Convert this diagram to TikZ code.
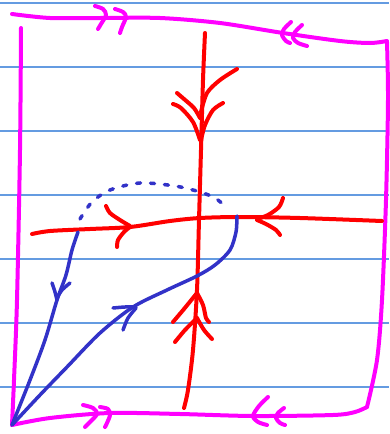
\documentclass[tikz,border=0pt]{standalone}
\definecolor{pinkm}{RGB}{255,0,255}
\definecolor{redl}{RGB}{255,0,0}
\definecolor{bluel}{RGB}{50,50,200}
\definecolor{ruled}{RGB}{100,155,225}
\tikzset{
  frame/.style={draw=pinkm,line width=4pt,line cap=round,line join=round},
  redpath/.style={draw=redl,line width=4pt,line cap=round,line join=round},
  bluepath/.style={draw=bluel,line width=3.5pt,line cap=round,line join=round},
  bluedash/.style={draw=bluel,line width=3.5pt,line cap=round,dash pattern=on 4pt off 10pt},
  rule/.style={draw=ruled,line width=1.3pt}
}
\begin{document}
\begin{tikzpicture}[x=1pt,y=-1pt]
\useasboundingbox (0,0) rectangle (389,434);
\fill[white] (0,0) rectangle (389,434);
% notebook rules
\foreach \yy in {3,67,131,195,259,323,387} \draw[rule] (0,\yy) -- (389,\yy);
% magenta frame
\draw[frame] plot[smooth] coordinates {(12,14) (50,18) (100,18) (160,18) (220,23) (283,33) (340,41) (370,43) (387,41)};
\draw[frame] plot[smooth] coordinates {(387,42) (388,100) (386,200) (382,300) (377,360) (367,407)};
\draw[frame] plot[smooth] coordinates {(367,407) (355,412) (333,415) (253,416) (180,414) (110,413) (50,418) (12,425)};
\draw[frame] plot[smooth] coordinates {(21,28) (20,150) (17,300) (14,380) (12,425)};
% top >>
\draw[frame] plot[smooth] coordinates {(95,6) (103,9) (106,15) (101,24) (98,29)};
\draw[frame] plot[smooth] coordinates {(115,9) (123,12) (126,17) (122,27) (120,33)};
% top <<
\draw[frame] plot[smooth] coordinates {(291,22) (284,29) (282,35) (286,41) (290,43)};
\draw[frame] plot[smooth] coordinates {(302,25) (295,32) (293,38) (298,43) (307,46)};
% bottom >>
\draw[frame] plot[smooth] coordinates {(83,405) (93,408) (97,414) (90,422) (85,427)};
\draw[frame] plot[smooth] coordinates {(100,407) (108,409) (110,415) (107,423) (105,427)};
% bottom <<
\draw[frame] plot[smooth] coordinates {(268,397) (259,406) (253,416) (258,422) (267,425)};
\draw[frame] plot[smooth] coordinates {(284,408) (278,413) (276,418) (280,423) (285,425)};
% red axes
\draw[redpath] plot[smooth] coordinates {(205,33) (203,80) (201,150) (199,220) (197,290) (193,350) (188,390) (184,408)};
\draw[redpath] plot[smooth] coordinates {(32,234) (50,231) (90,229) (130,227) (170,221) (200,218) (240,217) (300,218) (382,221)};
% red top double arrow (down)
\draw[redpath] plot[smooth] coordinates {(177,93) (184,99) (194,108) (200,118)};
\draw[redpath] plot[smooth] coordinates {(237,69) (220,80) (207,93) (201,112)};
\draw[redpath] plot[smooth] coordinates {(173,104) (181,108) (193,122) (200,140)};
\draw[redpath] plot[smooth] coordinates {(223,103) (213,110) (205,125) (201,140)};
% red horizontal arrows
\draw[redpath] plot[smooth] coordinates {(106,206) (110,213) (120,220) (130,226)};
\draw[redpath] plot[smooth] coordinates {(117,247) (118,240) (124,232) (130,227)};
\draw[redpath] plot[smooth] coordinates {(283,198) (279,207) (268,215) (257,219)};
\draw[redpath] plot[smooth] coordinates {(280,235) (276,230) (266,224) (257,220)};
% red bottom double arrow (up)
\draw[redpath] plot[smooth] coordinates {(173,322) (184,309) (197,293)};
\draw[redpath] plot[smooth] coordinates {(197,293) (203,305) (206,318) (209,322)};
\draw[redpath] plot[smooth] coordinates {(175,342) (185,330) (197,318)};
\draw[redpath] plot[smooth] coordinates {(197,318) (204,330) (212,339)};
% blue dashed arc
\draw[bluedash] plot[smooth] coordinates {(80,219) (92,202) (110,190) (140,183) (175,186) (200,192) (215,198) (225,206)};
% blue curves
\draw[bluepath] plot[smooth] coordinates {(78,232) (72,250) (66,275) (57,300) (45,340) (30,380) (12,425)};
\draw[bluepath] plot[smooth] coordinates {(52,283) (55,292) (57,300)};
\draw[bluepath] plot[smooth] coordinates {(70,283) (62,290) (57,298)};
\draw[bluepath] plot[smooth] coordinates {(237,216) (236,232) (230,250) (215,265) (197,276) (167,290) (133,307) (100,333) (67,367) (40,395) (12,425)};
\draw[bluepath] plot[smooth] coordinates {(113,308) (125,307) (136,307)};
\draw[bluepath] plot[smooth] coordinates {(123,330) (128,318) (136,308)};
\end{tikzpicture}
\end{document}
